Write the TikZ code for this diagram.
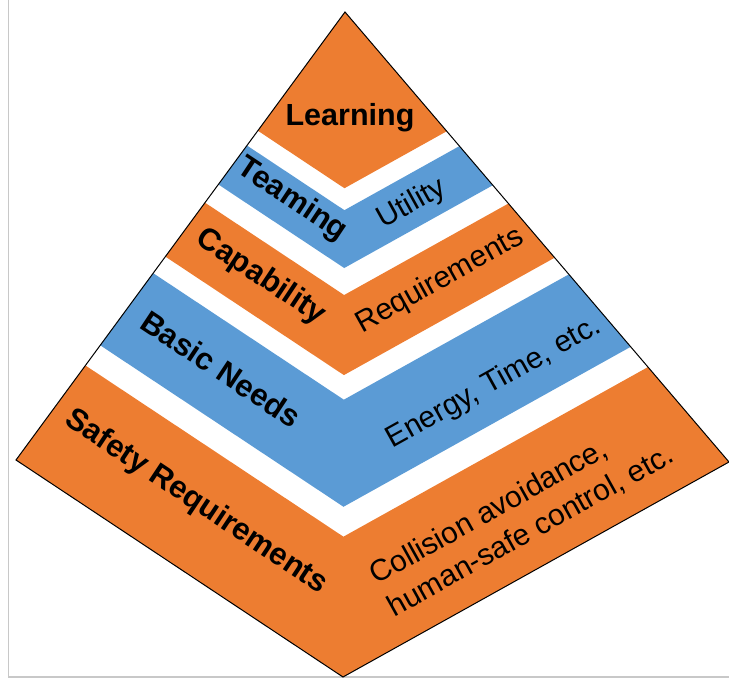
\documentclass[tikz,border=0pt]{standalone}
\usepackage{fontspec}
\setmainfont{Liberation Sans}
\usetikzlibrary{calc}
\definecolor{porange}{HTML}{ED7D31}
\definecolor{pblue}{HTML}{5B9BD5}
\definecolor{framegray}{HTML}{C8C8C8}
\newcommand\pband[3]{\fill[#3] ($(A)!#1!(L)$) -- ($(A)!#1!(B)$) -- ($(A)!#1!(R)$) -- ($(A)!#2!(R)$) -- ($(A)!#2!(B)$) -- ($(A)!#2!(L)$) -- cycle;}
\begin{document}
\begin{tikzpicture}[x=1pt,y=-1pt,
  toplbl/.style={font=\fontsize{30.5}{34}\selectfont\bfseries, inner sep=0pt},
  lbl/.style={font=\fontsize{31}{36}\selectfont\bfseries, inner sep=0pt, rotate=-33.6},
  rlbl/.style={font=\fontsize{30}{37}\selectfont, inner sep=0pt, rotate=29.1, align=left},
]
\useasboundingbox (0,0) rectangle (729,682);
\draw[framegray, line width=1.5pt] (8.5,0) -- (8.5,677) -- (729,677);
\coordinate (A) at (345,12);
\coordinate (L) at (16,460);
\coordinate (B) at (343,677);
\coordinate (R) at (729,462);
\pband{0}{0.265}{porange}
\pband{0.298}{0.385}{pblue}
\pband{0.4256}{0.546}{porange}
\pband{0.583}{0.744}{pblue}
\pband{0.789}{1}{porange}
\draw[line width=1pt, line join=miter] (A) -- (L) -- (B) -- (R) -- cycle;
\node[toplbl] (learn) at (350,118) {Learning};
\node[lbl] (team) at (292,200) {Teaming};
\node[rlbl] (util) at (412,204) {Utility};
\node[lbl] (cap) at (261,277) {Capability};
\node[rlbl] (req) at (440,281) {Requirements};
\node[lbl] (basic) at (221,369) {Basic Needs};
\node[rlbl] (energy) at (494,383) {Energy, Time, etc.};
\node[lbl] (safety) at (196,502) {Safety Requirements};
\node[rlbl] (coll) at (522,515) {Collision avoidance,\\human-safe control, etc.};
\end{tikzpicture}
\end{document}
